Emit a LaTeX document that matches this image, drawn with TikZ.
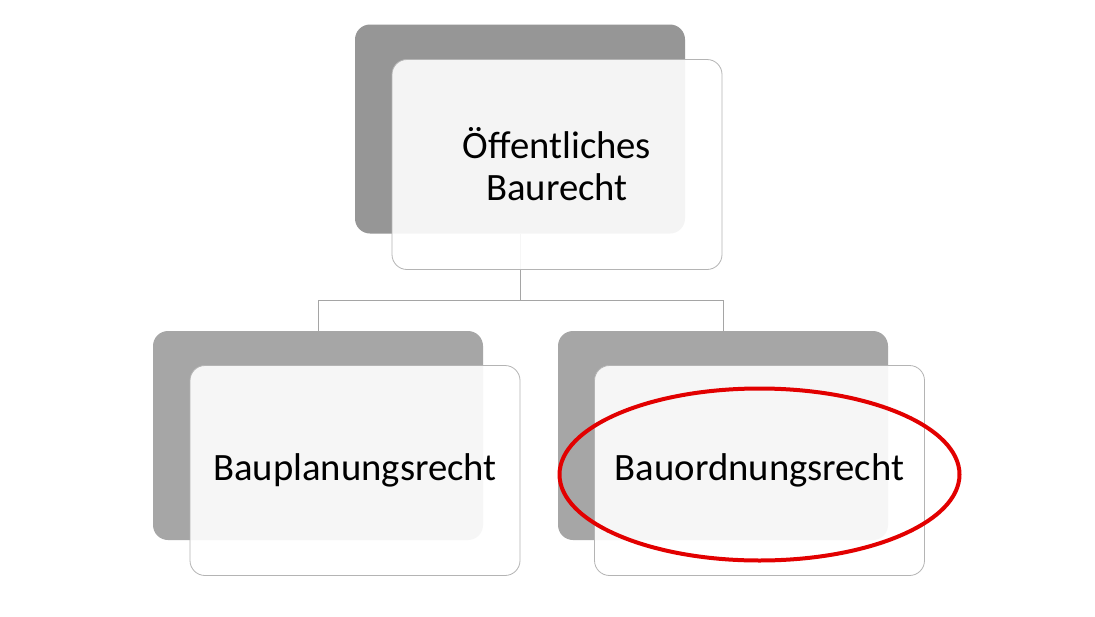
\documentclass[tikz,border=0pt]{standalone}
\usepackage{fontspec}
\setmainfont{Carlito}
\definecolor{topgray}{RGB}{150,150,150}
\definecolor{subgray}{RGB}{166,166,166}
\definecolor{edgegray}{RGB}{180,180,180}
\definecolor{linegray}{RGB}{165,165,165}
\definecolor{markred}{RGB}{226,0,0}

\begin{document}
\begin{tikzpicture}[x=1pt, y=-1pt,
    backbox/.style={rounded corners=15pt, minimum width=330pt, minimum height=209pt, inner sep=0pt},
    frontbox/.style={draw=edgegray, line width=0.8pt, fill=white, fill opacity=0.9, text opacity=1,
      rounded corners=15pt, minimum width=330pt, minimum height=210pt, inner sep=0pt,
      align=center, font=\fontsize{38.7}{42}\selectfont}]
  \useasboundingbox[fill=white] (0,0) rectangle (1095,616);
  % gray boxes behind
  \node[backbox, fill=topgray] (topback) at (520,129) {};
  \node[backbox, fill=subgray] (leftback) at (318,435.5) {};
  \node[backbox, fill=subgray] (rightback) at (723,435.5) {};
  % tree lines
  \path[draw, linegray, line width=0.8pt] (topback.south) -- ++(0,67) coordinate (fork)
    -| (leftback.north);
  \path[draw, linegray, line width=0.8pt] (fork) -| (rightback.north);
  % front boxes
  \node[frontbox] (topbox) at (557,164.5) {Öffentliches\\Baurecht};
  \node[frontbox] (leftbox) at (355,470.5) {Bauplanungsrecht};
  \node[frontbox] (rightbox) at (759.5,470.5) {Bauordnungsrecht};
  % highlight
  \path[draw, markred, line width=4pt] (rightbox.center) ++(0,4) ellipse [x radius=200, y radius=86];
\end{tikzpicture}
\end{document}
